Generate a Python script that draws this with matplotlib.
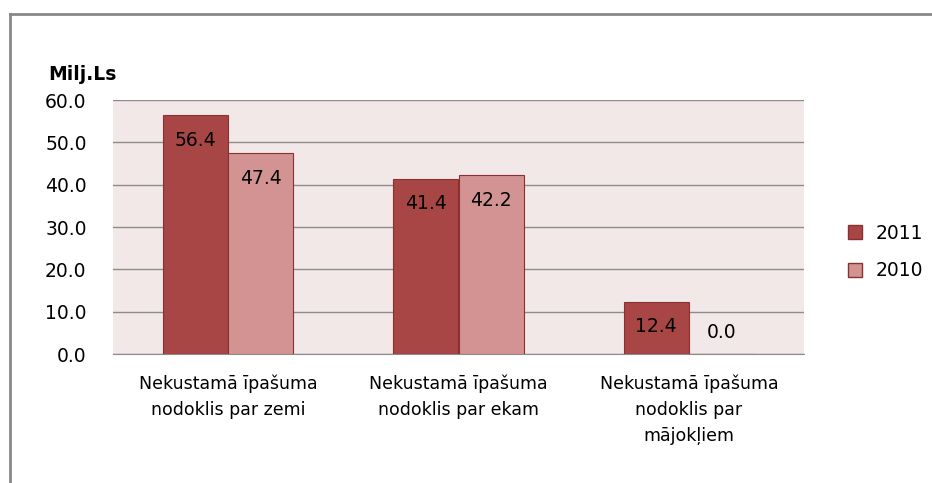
import matplotlib.pyplot as plt
import numpy as np
from matplotlib.lines import Line2D

categories = ["Nekustamā īpašuma\nnodoklis par zemi",
              "Nekustamā īpašuma\nnodoklis par ekam",
              "Nekustamā īpašuma\nnodoklis par\nmājokļiem"]
series_names = ["2011", "2010"]
values_2011 = [56.4, 41.4, 12.4]
values_2010 = [47.4, 42.2, 0.0]
yticks = [0, 10, 20, 30, 40, 50, 60]

col_2011 = "#A84646"
col_2010 = "#D39393"
edge = "#8B3030"
fs = 12.5
fs_num = 13.5

plt.rcParams['font.family'] = ['DejaVu Sans']

fig = plt.figure(figsize=(9.32, 4.83), dpi=100)
W, H = 932, 483
ax = fig.add_axes([113 / W, 1 - 354 / H, (804 - 113) / W, (354 - 100) / H])
ax.set_facecolor("#F2E8E8")

x = np.arange(len(categories))
bw = 0.283
for vals, col, off in [(values_2011, col_2011, -bw / 2), (values_2010, col_2010, bw / 2)]:
    ax.bar(x + off, vals, bw, color=col, edgecolor=edge, linewidth=0.8, zorder=3)
    for xi, v in zip(x + off, vals):
        dy = -25 if v > 5 else 22
        ax.annotate(f"{v:.1f}", (xi, v), xytext=(0, dy * 0.72), textcoords="offset points",
                    ha="center", va="center", fontsize=fs_num, color="black", zorder=4)

ax.set_xlim(-0.5, 2.5)
ax.set_ylim(0, 60)
ax.set_yticks(yticks)
ax.set_yticklabels([f"{t:.1f}" for t in yticks], fontsize=fs_num)
ax.set_xticks(x)
ax.set_xticklabels(categories, fontsize=fs, linespacing=1.55)
ax.tick_params(axis="both", length=0)
ax.tick_params(axis="y", pad=19)
ax.tick_params(axis="x", pad=15)
ax.yaxis.grid(True, color="#8C8C8C", linewidth=1.0, zorder=1)
for s in ["top", "right", "left"]:
    ax.spines[s].set_visible(False)
ax.spines["bottom"].set_color("#8C8C8C")

fig.text(48 / W, 1 - 75 / H, "Milj.Ls", fontsize=fs_num, fontweight="bold", va="center", ha="left")

handles = [Line2D([], [], marker="s", linestyle="", markersize=10,
                  markerfacecolor=c, markeredgecolor=edge) for c in (col_2011, col_2010)]
fig.legend(handles, series_names, loc="center left", bbox_to_anchor=(819 / W, 1 - 252 / H),
           frameon=False, fontsize=fs_num, handletextpad=0.1, labelspacing=1.0)

# outer chart border (only top and left visible in the crop)
fig.add_artist(Line2D([10 / W, 10 / W], [0, 1 - 14 / H], transform=fig.transFigure,
                      color="#888888", linewidth=2))
fig.add_artist(Line2D([10 / W, 1], [1 - 14 / H, 1 - 14 / H], transform=fig.transFigure,
                      color="#888888", linewidth=2))

fig.savefig("out.png", dpi=100)
